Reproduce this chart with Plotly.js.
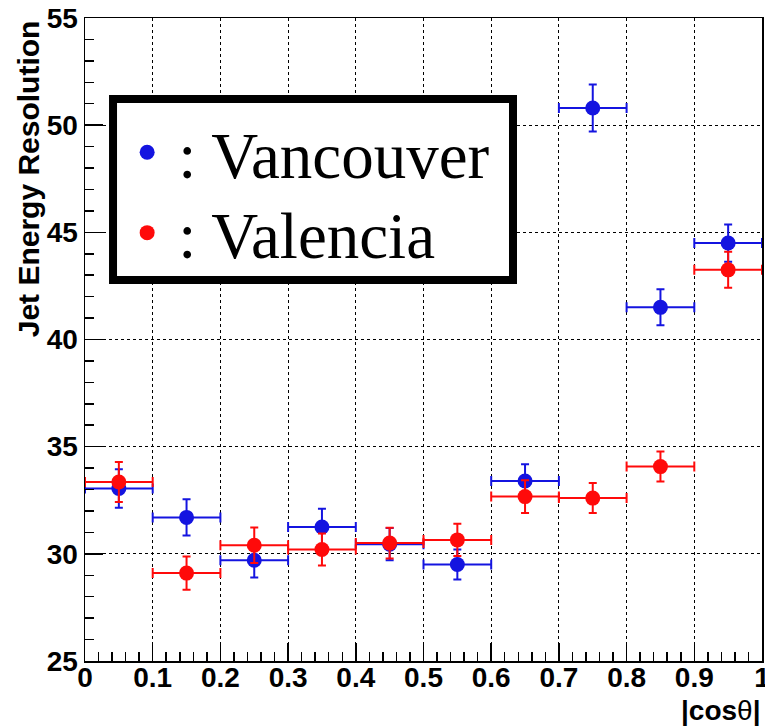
<!DOCTYPE html>
<html>
<head>
<meta charset="utf-8">
<script src="https://cdn.plot.ly/plotly-3.0.1.min.js"></script>
<style>
  html, body { margin: 0; padding: 0; background: #ffffff; }
  #plot { width: 765px; height: 727px; }
</style>
</head>
<body>
<div id="plot"></div>
<script>
// |cos(theta)| bin centres and half-widths
const binCentres = [0.05, 0.15, 0.25, 0.35, 0.45, 0.55, 0.65, 0.75, 0.85, 0.95];
const binHalfWidth = [0.05, 0.05, 0.05, 0.05, 0.05, 0.05, 0.05, 0.05, 0.05, 0.05];

// Jet energy resolution, Vancouver clustering
const vancouverRes = [33.05, 31.7, 29.7, 31.25, 30.45, 29.5, 33.4, 50.8, 41.5, 44.5];
const vancouverErr = [0.9, 0.85, 0.8, 0.85, 0.75, 0.7, 0.78, 1.1, 0.84, 0.87];

// Jet energy resolution, Valencia clustering
const valenciaRes = [33.35, 29.1, 30.4, 30.2, 30.5, 30.65, 32.67, 32.6, 34.07, 43.25];
const valenciaErr = [0.93, 0.77, 0.83, 0.75, 0.72, 0.75, 0.76, 0.7, 0.7, 0.84];

const yTickVals = [25, 30, 35, 40, 45, 50, 55];
const yTickText = ['25', '30', '35', '40', '45', '50', '55'];
const xTickVals = [0, 0.1, 0.2, 0.3, 0.4, 0.5, 0.6, 0.7, 0.8, 0.9, 1];
const xTickText = ['0', '0.1', '0.2', '0.3', '0.4', '0.5', '0.6', '0.7', '0.8', '0.9', '1'];

const BLUE = '#1414e0';
const RED = '#ff0a0a';

const bold = s => '<b>' + s + '</b>';

function series(name, y, err, color, legendId) {
  return {
    type: 'scatter',
    mode: 'markers',
    name: name,
    legend: legendId,
    x: binCentres,
    y: y,
    marker: { color: color, size: 15, symbol: 'circle' },
    error_x: { type: 'data', array: binHalfWidth, visible: true, color: color, thickness: 2, width: 5 },
    error_y: { type: 'data', array: err, visible: true, color: color, thickness: 2, width: 4 },
    cliponaxis: false
  };
}

const data = [
  series(': Vancouver', vancouverRes, vancouverErr, BLUE, 'legend'),
  series(': Valencia', valenciaRes, valenciaErr, RED, 'legend2')
];

const tickFont = { family: 'Liberation Sans, Arial, sans-serif', size: 28, color: '#000000', weight: 700 };
const legendFont = { family: 'Liberation Serif, Times New Roman, serif', size: 65, color: '#000000' };

function legendAt(y) {
  return {
    x: 0.046, y: y, xanchor: 'left', yanchor: 'top',
    bgcolor: 'rgba(0,0,0,0)', borderwidth: 0,
    font: legendFont, itemsizing: 'trace', itemwidth: 52
  };
}

const layout = {
  width: 765,
  height: 727,
  margin: { l: 85, r: 3, t: 18, b: 66, pad: 0 },
  paper_bgcolor: '#ffffff',
  plot_bgcolor: '#ffffff',
  showlegend: true,
  legend: legendAt(0.867),
  legend2: legendAt(0.742),
  shapes: [
    {
      // frame around the two legend entries
      type: 'rect', xref: 'paper', yref: 'paper', layer: 'above',
      x0: 0.0414, x1: 0.6322, y0: 0.5925, y1: 0.874,
      line: { color: '#000000', width: 8 }, fillcolor: '#ffffff'
    }
  ],
  xaxis: {
    range: [0, 1],
    tickmode: 'array', tickvals: xTickVals, ticktext: xTickText.map(bold),
    ticks: 'inside', ticklen: 18, tickwidth: 1.5, tickcolor: '#000000',
    minor: { dtick: 0.02, ticks: 'inside', ticklen: 9, tickwidth: 1.5, tickcolor: '#000000', showgrid: false },
    showgrid: true, gridcolor: '#000000', griddash: 'dot', gridwidth: 1,
    showline: true, linecolor: '#000000', linewidth: 1.5, mirror: true,
    zeroline: false,
    tickfont: tickFont,
    ticklabelstandoff: -9,
    ticklabeloverflow: 'allow',
    fixedrange: true
  },
  yaxis: {
    range: [25, 55],
    tickmode: 'array', tickvals: yTickVals, ticktext: yTickText.map(bold),
    ticks: 'inside', ticklen: 18, tickwidth: 1.5, tickcolor: '#000000',
    minor: { dtick: 1, ticks: 'inside', ticklen: 9, tickwidth: 1.5, tickcolor: '#000000', showgrid: false },
    showgrid: true, gridcolor: '#000000', griddash: 'dot', gridwidth: 1,
    showline: true, linecolor: '#000000', linewidth: 1.5, mirror: true,
    zeroline: false,
    tickfont: tickFont,
    ticklabelstandoff: 0,
    ticklabeloverflow: 'allow',
    fixedrange: true
  },
  annotations: [
    {
      text: '<b>Jet Energy Resolution</b>',
      xref: 'paper', yref: 'paper',
      x: -0.083, y: 1.0, xanchor: 'center', yanchor: 'top',
      textangle: -90, showarrow: false,
      font: { family: 'Liberation Sans, Arial, sans-serif', size: 30, color: '#000000' }
    },
    {
      text: '<b>|cos</b>θ<b>|</b>',
      xref: 'paper', yref: 'paper',
      x: 1.0, y: -0.1026, xanchor: 'right', yanchor: 'bottom',
      showarrow: false, borderpad: 0,
      font: { family: 'Liberation Sans, Arial, sans-serif', size: 28, color: '#000000' }
    }
  ]
};

Plotly.newPlot('plot', data, layout, { displayModeBar: false, staticPlot: true });
</script>
</body>
</html>
